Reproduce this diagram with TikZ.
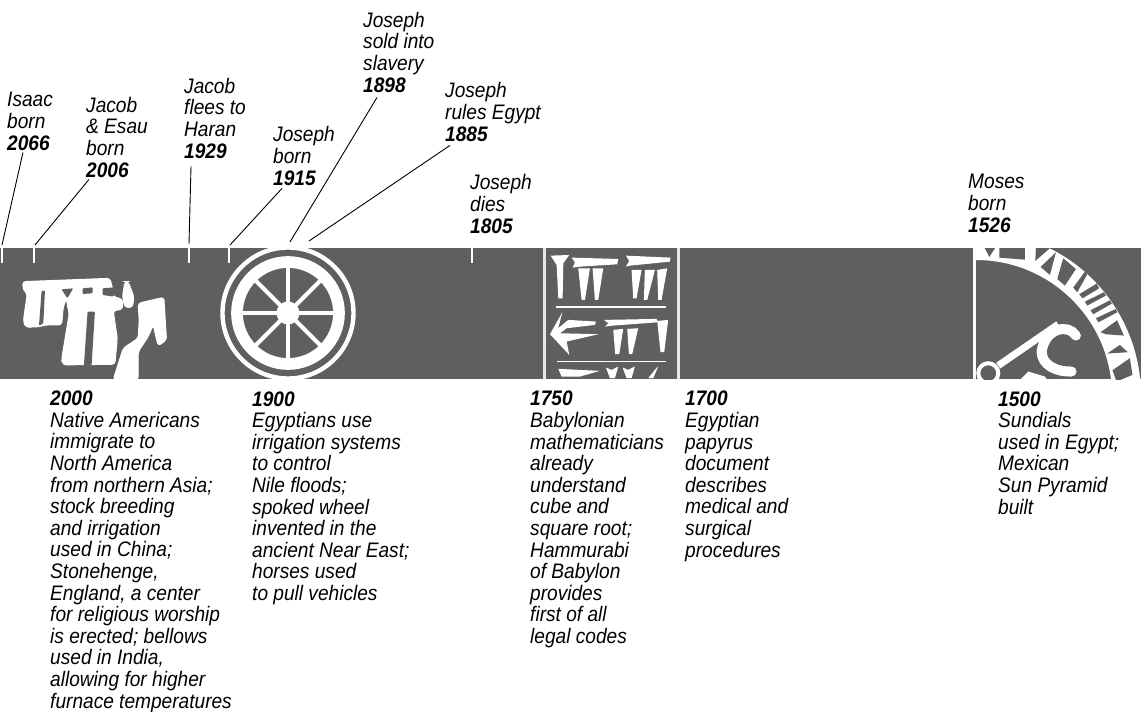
\documentclass[tikz,border=0pt]{standalone}
\usepackage{fontspec}
\usepackage{xcolor}
\newfontfamily\labelfont{Liberation Sans}[FakeStretch=0.91]
\definecolor{barGray}{RGB}{95,95,95}
\newcommand{\yr}[1]{{\bfseries #1}}
\tikzset{
  lbl/.style={anchor=base west, align=left, inner sep=0pt, font=\labelfont\itshape\fontsize{21}{21.6}\selectfont},
  leader/.style={black, line width=0.9pt},
  tick/.style={white, line width=2pt},
  stone/.style={fill=white, draw=white, line width=1pt, rounded corners=3pt},
  gap/.style={fill=barGray, rounded corners=1pt}
}
\begin{document}
\begin{tikzpicture}[x=1pt,y=-1pt]
\useasboundingbox (0,0) rectangle (1141,712);
% bar
\fill[barGray] (0,248) rectangle (1141,379);
\foreach \x in {2,34,189,229,472} \draw[tick] (\x,248) -- (\x,263);
\begin{scope}
\clip (0,248) rectangle (1141,379);
% stones
\begin{scope}[shift={(10,270)},x=0.333pt,y=-0.333pt]
\fill[stone] (38,35) -- (300,25) -- (308,55) -- (310,80) -- (338,88) -- (338,118) -- (310,122) -- (322,205) -- (315,283) -- (160,285) -- (155,270) -- (178,130) -- (172,105) -- (170,85) -- (160,110) -- (155,165) -- (105,165) -- (90,170) -- (48,172) -- (40,155) -- (52,70) -- (40,60) -- cycle;
\fill[gap] (95,62) -- (105,62) -- (100,160) -- (87,168) -- cycle;
\fill[gap] (155,58) -- (190,55) -- (172,85) -- cycle;
\fill[gap] (218,55) -- (248,52) -- (248,70) -- (218,72) -- cycle;
\fill[gap] (278,55) -- (312,52) -- (312,80) -- (278,75) -- cycle;
\fill[gap] (233,125) -- (255,125) -- (245,287) -- (222,287) -- cycle;
\fill[stone] (345,35) -- (355,35) -- (372,80) -- (368,112) -- (345,112) -- (338,80) -- cycle;
\fill[stone] (385,100) -- (462,82) -- (470,210) -- (445,228) -- (430,165) -- (415,200) -- (385,245) -- (385,330) -- (310,330) -- (340,235) -- (385,205) -- (388,150) -- cycle;
\end{scope}
% wheel
\draw[white, line width=4.4pt] (288,313) circle (65.5);
\draw[white, line width=11.7pt] (288,313) circle (51);
\foreach \a in {0,45,...,315} \draw[white, line width=4pt] (288,313) -- ++(\a:48);
\fill[white] (288,313) circle (11.5);
% tablet
\draw[white!85!barGray, line width=3pt] (544,248) -- (544,379);
\draw[white!85!barGray, line width=3pt] (678,248) -- (678,379);
\begin{scope}[shift={(530,235)},x=0.333pt,y=-0.333pt]
\draw[white, line width=1.5pt] (78,216) -- (408,216);
\draw[white, line width=1.5pt] (80,380) -- (408,380);
\foreach \p in {
  {(62,62) -- (118,60) -- (100,85) -- (98,190) -- (85,190) -- (80,90)},
  {(125,68) -- (265,72) -- (262,88) -- (150,95) -- (128,98) -- (135,82)},
  {(145,100) -- (180,100) -- (165,195) -- (155,195)},
  {(188,100) -- (220,100) -- (205,195) -- (195,195)},
  {(288,62) -- (422,68) -- (420,80) -- (300,92) -- (288,95) -- (298,78)},
  {(305,105) -- (335,105) -- (320,190) -- (310,190)},
  {(345,105) -- (375,105) -- (352,195) -- (342,195)},
  {(382,105) -- (412,100) -- (395,195) -- (385,195)},
  {(97,232) -- (85,280) -- (115,255) -- (198,260) -- (195,270) -- (110,280) -- (90,295) -- (205,298) -- (110,320) -- (118,360) -- (60,298)},
  {(222,255) -- (380,252) -- (385,262) -- (250,272) -- (225,275) -- (235,265)},
  {(250,285) -- (280,282) -- (268,358) -- (256,358)},
  {(292,282) -- (325,280) -- (307,358) -- (297,358)},
  {(382,258) -- (415,255) -- (403,352) -- (392,352)},
  {(85,402) -- (210,408) -- (150,425) -- (95,425)},
  {(228,398) -- (245,405) -- (265,395) -- (255,430) -- (240,430)},
  {(278,398) -- (295,405) -- (315,395) -- (305,430) -- (290,430)},
  {(385,395) -- (370,430) -- (355,430) -- (375,405)}
} \fill[white] \p -- cycle;
\end{scope}
% dial
\begin{scope}
\clip (974,248) rectangle (1141,379);
\draw[white, line width=29pt] (976,396) circle (150.5);
\begin{scope}[shift={(970,245)},x=0.333pt,y=-0.333pt]
\foreach \p in {
  {(42,5) -- (78,5) -- (58,36)},
  {(88,5) -- (165,5) -- (165,44) -- (88,38)},
  {(198,5) -- (245,5) -- (196,48)},
  {(212,66) -- (258,22) -- (240,90)},
  {(262,102) -- (280,40) -- (318,72) -- (285,122)},
  {(310,128) -- (345,80) -- (352,88) -- (322,142)},
  {(328,148) -- (380,116) -- (388,130) -- (338,160)},
  {(345,170) -- (402,142) -- (408,152) -- (352,182)},
  {(362,196) -- (420,166) -- (426,176) -- (370,208)},
  {(378,220) -- (438,192) -- (442,202) -- (386,232)},
  {(392,262) -- (442,226) -- (462,272) -- (408,268)},
  {(412,326) -- (450,300) -- (474,322)},
  {(428,376) -- (480,340) -- (488,390) -- (440,410)}
} \fill[barGray] \p -- cycle;
\end{scope}
\end{scope}
\draw[white, line width=3pt] (974,248) -- (974,379);
\begin{scope}[shift={(970,245)},x=0.333pt,y=-0.333pt]
\fill[barGray] (55,385) circle (30);
\draw[white, line width=4pt] (55,385) circle (30);
\draw[white, line width=7pt] (85,362) -- (265,238);
\draw[white, line width=10pt, line cap=round] (318,272) .. controls (295,235) and (225,250) .. (215,320) .. controls (215,360) and (260,382) .. (305,380);
\fill[white] (145,410) -- (175,380) -- (225,395) -- (235,410) -- cycle;
\end{scope}
\end{scope}
% events above the bar
\node[lbl] (isaac) at (7,150) {Isaac\\born\\\yr{2066}};
\node[lbl] (birth) at (86,177) {Jacob\\\&~Esau\\born\\\yr{2006}};
\node[lbl] (flees) at (184,158) {Jacob\\flees to\\Haran\\\yr{1929}};
\node[lbl] (josborn) at (273,185) {Joseph\\born\\\yr{1915}};
\node[lbl] (sold) at (363,92) {Joseph\\sold into\\slavery\\\yr{1898}};
\node[lbl] (rules) at (445,141) {Joseph\\rules Egypt\\\yr{1885}};
\node[lbl] (dies) at (470,233) {Joseph\\dies\\\yr{1805}};
\node[lbl] (moses) at (968,232) {Moses\\born\\\yr{1526}};
\coordinate (tisaac) at (2,245);
\coordinate (tbirth) at (35,245);
\coordinate (tflees) at (189,244);
\coordinate (tjosborn) at (230,245);
\coordinate (tsold) at (290,242);
\coordinate (trules) at (309,241);
\draw[leader] ([shift={(16,2)}]isaac.south west) -- (tisaac);
\draw[leader] ([shift={(3,2)}]birth.south west) -- (tbirth);
\draw[leader] ([shift={(7,8)}]flees.south west) -- (tflees);
\draw[leader] ([shift={(9,3)}]josborn.south west) -- (tjosborn);
\draw[leader] ([shift={(14,5)}]sold.south west) -- (tsold);
\draw[leader] ([shift={(5,4)}]rules.south west) -- (trules);
% events below the bar
\node[lbl] (y2000) at (50,708) {\yr{2000}\\Native Americans\\immigrate to\\North America\\from northern Asia;\\stock breeding\\and irrigation\\used in China;\\Stonehenge,\\England, a center\\for religious worship\\is erected; bellows\\used in India,\\allowing for higher\\furnace temperatures};
\node[lbl] (y1900) at (252,600.5) {\yr{1900}\\Egyptians use\\irrigation systems\\to control\\Nile floods;\\spoked wheel\\invented in the\\ancient Near East;\\horses used\\to pull vehicles};
\node[lbl] (y1750) at (530,643.5) {\yr{1750}\\Babylonian\\mathematicians\\already\\understand\\cube and\\square root;\\Hammurabi\\of Babylon\\provides\\first of all\\legal codes};
\node[lbl] (y1700) at (685,557) {\yr{1700}\\Egyptian\\papyrus\\document\\describes\\medical and\\surgical\\procedures};
\node[lbl] (y1500) at (998,514) {\yr{1500}\\Sundials\\used in Egypt;\\Mexican\\Sun Pyramid\\built};
\end{tikzpicture}
\end{document}
